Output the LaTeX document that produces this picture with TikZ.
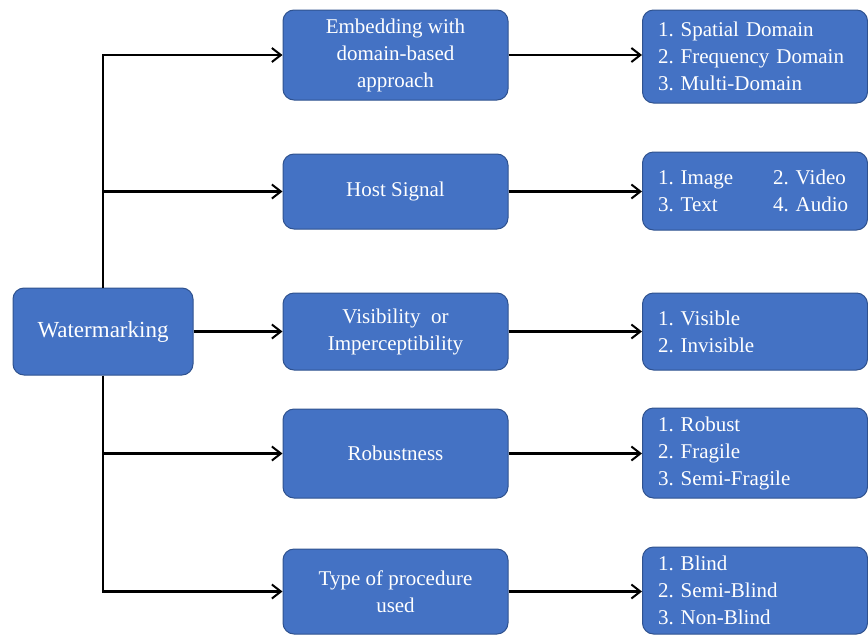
\documentclass[tikz,border=0pt]{standalone}
\usepackage{fontspec}
\setmainfont{Liberation Serif}[Ligatures=TeX]
\newfontfamily\boxfont{Liberation Serif}
\usetikzlibrary{arrows.meta}
\definecolor{boxblue}{RGB}{68,114,196}
\definecolor{boxedge}{RGB}{47,82,143}
\frenchspacing

\begin{document}
\begin{tikzpicture}[x=1pt, y=-1pt,
  blockbox/.style={draw=boxedge, line width=1pt, fill=boxblue, rounded corners=11pt,
    text=white, font=\boxfont\fontsize{21}{27}\selectfont, align=center,
    minimum width=225pt, inner sep=0pt},
  listbox/.style={blockbox, align=left, text width=194pt, inner xsep=15pt},
  link/.style={line width=2.2pt, -{Straight Barb[length=9pt,width=14pt,line width=2pt]}}
]

\useasboundingbox (0,0) rectangle (868,635);

% root (left)
\node[blockbox, minimum width=180pt, minimum height=87pt,
  font=\boxfont\fontsize{23}{27}\selectfont] (wm) at (103, 331.5) {Watermarking};

% middle column
\node[blockbox, minimum height=90pt] (emb) at (395.5, 55) {Embedding with\\domain-based\\approach};
\node[blockbox, minimum height=75pt] (host) at (395.5, 191.5) {Host Signal};
\node[blockbox, minimum height=77pt] (vis) at (395.5, 331.5) {Visibility~~or\\Imperceptibility};
\node[blockbox, minimum height=89pt] (rob) at (395.5, 453.5) {Robustness};
\node[blockbox, minimum height=85pt] (type) at (395.5, 591.5) {Type of procedure\\used};

% right column (lists)
\node[listbox, minimum height=93pt] (embL) at (755, 56.5) {1. Spatial Domain\\2. Frequency Domain\\3. Multi-Domain};
\node[listbox, minimum height=78pt] (hostL) at (755, 191) {\makebox[115pt][l]{1. Image}2. Video\\\makebox[115pt][l]{3. Text}4. Audio};
\node[listbox, minimum height=77pt] (visL) at (755, 331.5) {1. Visible\\2. Invisible};
\node[listbox, minimum height=90pt] (robL) at (755, 453) {1. Robust\\2. Fragile\\3. Semi-Fragile};
\node[listbox, minimum height=87pt] (typeL) at (755, 590.5) {1. Blind\\2. Semi-Blind\\3. Non-Blind};

% trunk and branches
\draw[link] (wm.north) |- (emb.west);
\draw[link] (wm.north) |- (host.west);
\draw[link] (wm) -- (vis);
\draw[link] (wm.south) |- (rob.west);
\draw[link] (wm.south) |- (type.west);

% to the lists
\draw[link] (emb.east) -- (emb.east -| embL.west);
\draw[link] (host.east) -- (host.east -| hostL.west);
\draw[link] (vis.east) -- (vis.east -| visL.west);
\draw[link] (rob.east) -- (rob.east -| robL.west);
\draw[link] (type.east) -- (type.east -| typeL.west);

\end{tikzpicture}
\end{document}
